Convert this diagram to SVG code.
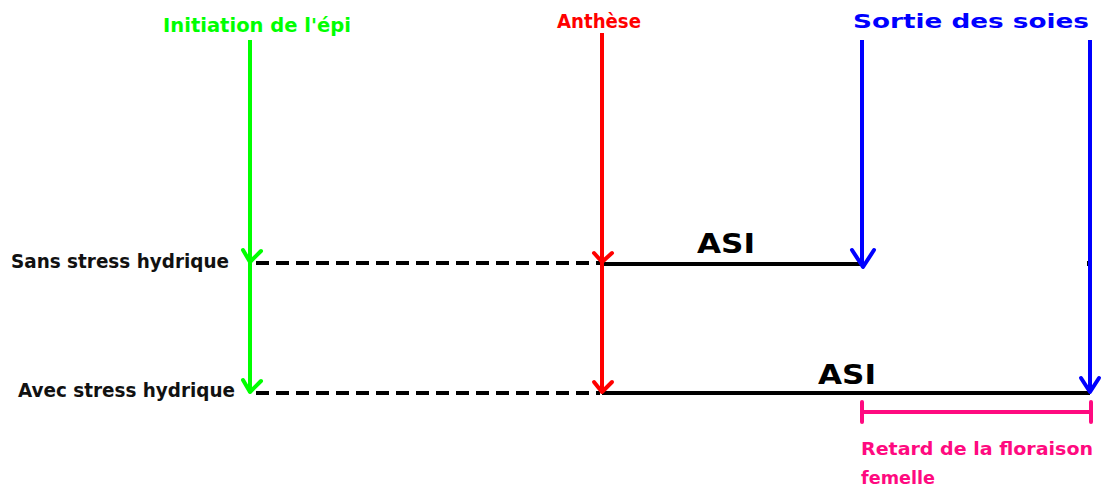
<svg xmlns="http://www.w3.org/2000/svg" width="1104" height="490" viewBox="0 0 1104 490">
  <style>
    .title { font-family: "DejaVu Sans", "Liberation Sans", sans-serif; font-weight: bold; font-size: 20px; }
    .row { font-family: "DejaVu Sans Condensed", "DejaVu Sans", sans-serif; font-weight: bold; font-size: 19px; fill: #111; }
    .asi { font-family: "DejaVu Sans", "Liberation Sans", sans-serif; font-weight: bold; font-size: 27px; fill: #000; }
    .note { font-family: "DejaVu Sans", "Liberation Sans", sans-serif; font-weight: bold; font-size: 17px; fill: #ff0a80; }
    .stage { stroke-width: 4; fill: none; }
    .head { stroke-width: 4; fill: none; stroke-linecap: round; stroke-linejoin: round; }
    .dash { stroke: #000; stroke-width: 4; stroke-dasharray: 13 7; fill: none; }
    .solid { stroke: #000; stroke-width: 4; fill: none; }
  </style>
  <rect width="1104" height="490" fill="#fff"/>

  <!-- timelines: dashed before anthesis, solid ASI span after -->
  <g id="connectors">
    <line class="dash" x1="256" y1="263" x2="600" y2="263"/>
    <line class="solid" x1="602" y1="264" x2="862" y2="264"/>
    <line class="dash" x1="256" y1="393" x2="600" y2="393"/>
    <line class="solid" x1="602" y1="393" x2="1090" y2="393"/>
    <rect x="1087" y="261" width="4" height="5" fill="#000"/>
  </g>

  <!-- stage: ear initiation -->
  <g id="initiation">
    <text class="title" x="163" y="32" fill="#00ff00" textLength="188" lengthAdjust="spacingAndGlyphs">Initiation de l'épi</text>
    <line class="stage" stroke="#00ff00" x1="250" y1="40" x2="250" y2="393"/>
    <polyline class="head" stroke="#00ff00" points="243,250 250,262 261,251"/>
    <polyline class="head" stroke="#00ff00" points="243,380 250,392 261,381"/>
  </g>

  <!-- stage: anthesis -->
  <g id="anthese">
    <text class="title" x="557" y="28" fill="#ff0000" textLength="84" lengthAdjust="spacingAndGlyphs">Anthèse</text>
    <line class="stage" stroke="#ff0000" x1="602" y1="33" x2="602" y2="392"/>
    <polyline class="head" stroke="#ff0000" points="594,253 602,262 612,253"/>
    <polyline class="head" stroke="#ff0000" points="594,382 602,392 612,382"/>
  </g>

  <!-- stage: silking -->
  <g id="soies">
    <text class="title" x="853" y="28" fill="#0000ff" textLength="236" lengthAdjust="spacingAndGlyphs">Sortie des soies</text>
    <line class="stage" stroke="#0000ff" x1="862" y1="40" x2="862" y2="266"/>
    <polyline class="head" stroke="#0000ff" points="852,250 863,267 874,250"/>
    <line class="stage" stroke="#0000ff" x1="1090" y1="40" x2="1090" y2="392"/>
    <polyline class="head" stroke="#0000ff" points="1081,378 1090,392 1099,378"/>
  </g>

  <!-- row labels -->
  <g id="sans-stress">
    <text class="row" x="11" y="268" textLength="218" lengthAdjust="spacingAndGlyphs">Sans stress hydrique</text>
  </g>
  <g id="avec-stress">
    <text class="row" x="18" y="397" textLength="217" lengthAdjust="spacingAndGlyphs">Avec stress hydrique</text>
  </g>

  <!-- anthesis-silking intervals -->
  <g id="asi-sans">
    <text class="asi" x="697" y="253" textLength="58" lengthAdjust="spacingAndGlyphs">ASI</text>
  </g>
  <g id="asi-avec">
    <text class="asi" x="818" y="384" textLength="58" lengthAdjust="spacingAndGlyphs">ASI</text>
  </g>

  <!-- delay bracket -->
  <g id="retard">
    <g stroke="#ff0a80" stroke-width="4" stroke-linecap="round" fill="none">
      <line x1="862" y1="412" x2="1091" y2="412"/>
      <line x1="862" y1="402" x2="862" y2="422"/>
      <line x1="1091" y1="402" x2="1091" y2="422"/>
    </g>
    <text class="note" x="861" y="455" textLength="232" lengthAdjust="spacingAndGlyphs">Retard de la floraison</text>
    <text class="note" x="861" y="484" textLength="74" lengthAdjust="spacingAndGlyphs">femelle</text>
  </g>
</svg>
